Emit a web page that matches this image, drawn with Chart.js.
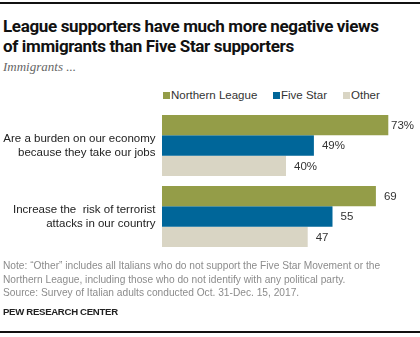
<!DOCTYPE html>
<html>
<head>
<meta charset="utf-8">
<script src="https://cdn.jsdelivr.net/npm/chart.js@4"></script>
<style>
  html, body { margin: 0; padding: 0; background: #fff; }
  body { width: 420px; height: 337px; position: relative; overflow: hidden; font-family: "Liberation Sans", Arial, sans-serif; }
  .rule { position: absolute; left: 0; width: 420px; height: 2px; background: #111; }
  #title { position: absolute; left: 3px; top: 16px; font: bold 17px "Roboto", "Liberation Sans", sans-serif; line-height: 20px; color: #111; letter-spacing: -0.35px; white-space: nowrap; }
  #subtitle { position: absolute; left: 3px; top: 59px; font: italic 13px "Liberation Serif", serif; color: #666; }
  #legend { position: absolute; top: 89px; left: 0; font-size: 11.5px; color: #333; }
  .lg { position: absolute; white-space: nowrap; }
  .sw { display: inline-block; width: 7px; height: 7px; margin-right: 1px; vertical-align: 0px; }
  #note { position: absolute; left: 3px; top: 259px; font-size: 10.2px; line-height: 13.5px; color: #8c8c8c; white-space: nowrap; }
  #pew { position: absolute; left: 3px; top: 306px; font-size: 9.6px; font-weight: bold; color: #222; letter-spacing: -0.3px; }
  canvas { position: absolute; left: 0; top: 0; }
</style>
</head>
<body>
<div class="rule" style="top:2px"></div>
<div id="title">League supporters have much more negative views<br>of immigrants than Five Star supporters</div>
<div id="subtitle">Immigrants ...</div>
<div id="legend"></div>
<div id="chartbox" style="position:absolute;left:0;top:0;width:420px;height:337px;"><canvas id="c" width="420" height="337"></canvas></div>
<div id="note">Note: “Other” includes all Italians who do not support the Five Star Movement or the<br>Northern League, including those who do not identify with any political party.<br>Source: Survey of Italian adults conducted Oct. 31-Dec. 15, 2017.</div>
<div id="pew">PEW RESEARCH CENTER</div>
<div class="rule" style="top:331px"></div>
<script>
const categories = [
  ["Are a burden on our economy", "because they take our jobs"],
  ["Increase the  risk of terrorist", "attacks in our country"]
];
const seriesNames = ["Northern League", "Five Star", "Other"];
const northernLeague = [73, 69];
const fiveStar = [49, 55];
const other = [40, 47];
const labelSuffix = ["%", ""];
const colors = ["#949d48", "#006699", "#d9d5c4"];
const legendX = [163, 273, 343];

const lg = document.getElementById('legend');
seriesNames.forEach((n, i) => {
  const d = document.createElement('div');
  d.className = 'lg';
  d.style.left = legendX[i] + 'px';
  d.innerHTML = '<span class="sw" style="background:' + colors[i] + '"></span>' + n;
  lg.appendChild(d);
});

const valueLabels = {
  id: 'valueLabels',
  afterDatasetsDraw(chart) {
    const ctx = chart.ctx;
    ctx.save();
    ctx.font = '11.5px "Liberation Sans", Arial, sans-serif';
    ctx.fillStyle = '#333';
    ctx.textBaseline = 'middle';
    ctx.textAlign = 'left';
    chart.data.datasets.forEach((ds, di) => {
      const meta = chart.getDatasetMeta(di);
      meta.data.forEach((bar, i) => {
        const txt = ds.data[i] + labelSuffix[i];
        const w = ctx.measureText(txt).width;
        let x = bar.x + 8;
        if (x + w > 414) x = 414 - w;
        ctx.fillText(txt, x, bar.y + 0.5);
      });
    });
    ctx.restore();
  }
};

new Chart(document.getElementById('c'), {
  type: 'bar',
  data: {
    labels: categories,
    datasets: [
      { label: seriesNames[0], data: northernLeague, backgroundColor: colors[0] },
      { label: seriesNames[1], data: fiveStar, backgroundColor: colors[1] },
      { label: seriesNames[2], data: other, backgroundColor: colors[2] }
    ]
  },
  options: {
    indexAxis: 'y',
    responsive: false,
    animation: false,
    devicePixelRatio: 1,
    layout: { padding: { top: 110, bottom: 85, right: 10, left: 0 } },
    datasets: { bar: { categoryPercentage: 0.86, barPercentage: 1.0, borderWidth: 0 } },
    plugins: { legend: { display: false }, tooltip: { enabled: false } },
    scales: {
      x: { display: false, min: 0, max: 80 },
      y: {
        grid: { display: false, drawTicks: false },
        border: { display: false },
        ticks: { color: '#222', padding: 6.5, font: { size: 11.5, family: '"Liberation Sans", Arial, sans-serif', lineHeight: 1.2 } },
        afterFit(scale) { scale.width = 162; }
      }
    }
  },
  plugins: [valueLabels]
});
</script>
</body>
</html>
